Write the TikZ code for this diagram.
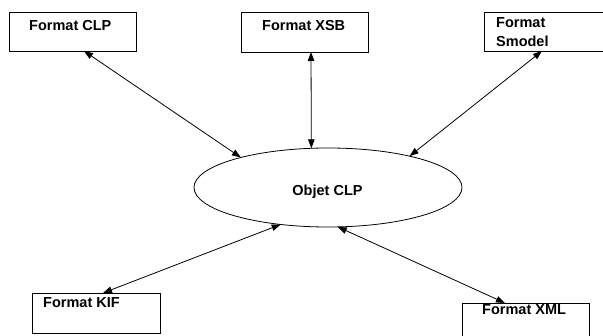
\documentclass[tikz,border=0pt]{standalone}
\usepackage{fontspec}
\setmainfont{Liberation Sans}
\usetikzlibrary{arrows.meta,shapes.geometric}
\begin{document}
\begin{tikzpicture}[x=1pt,y=-1pt,
  frame/.style={draw=black, line width=0.8pt, fill=white, inner sep=0pt, outer sep=0pt, anchor=north west},
  caption/.style={font=\fontsize{14.5}{19}\bfseries\selectfont, inner sep=0pt, anchor=base west, align=left},
  link/.style={{Triangle[length=9pt,width=6.5pt]}-{Triangle[length=9pt,width=6.5pt]}, line width=0.8pt, draw=black},
]
\useasboundingbox (0,0) rectangle (603,336);
\fill[white] (0,0) rectangle (603,336);

% format boxes
\node[frame, minimum width=127pt, minimum height=39pt] (clp) at (9,12) {};
\node[frame, minimum width=127pt, minimum height=40pt] (xsb) at (241,12) {};
\node[frame, minimum width=124pt, minimum height=39pt] (smodel) at (484,12) {};
\node[frame, minimum width=128pt, minimum height=40pt] (kif) at (32,293) {};
\node[frame, minimum width=127pt, minimum height=40pt] (xml) at (462,303) {};

% central object
\node[draw=black, line width=0.8pt, fill=white, ellipse, minimum width=268pt, minimum height=79pt,
      inner sep=0pt, outer sep=0pt] (obj) at (328,187.5) {};

% box captions (the two-line caption is anchored on its last baseline)
\node[caption] (clp-t) at (29,31) {Format CLP};
\node[caption] (xsb-t) at (262,31) {Format XSB};
\node[caption] (smodel-t) at (496,47) {Format\\Smodel};
\node[caption] (kif-t) at (43,308) {Format KIF};
\node[caption] (xml-t) at (482,315) {Format XML};
\node[caption, anchor=base] (obj-t) at (327.5,196) {Objet CLP};

% links between the formats and the object
\draw[link] ([xshift=11.5pt]clp.south) -- (obj.161.3);
\draw[link] ([xshift=6.5pt]xsb.south) -- (obj.113.3);
\draw[link] ([xshift=-4pt]smodel.south) -- (obj.21.6);
\draw[link] ([xshift=7pt]kif.north) -- (obj.218.8);
\draw[link] ([xshift=-20.5pt]xml.north) -- (obj.284.2);
\end{tikzpicture}
\end{document}
